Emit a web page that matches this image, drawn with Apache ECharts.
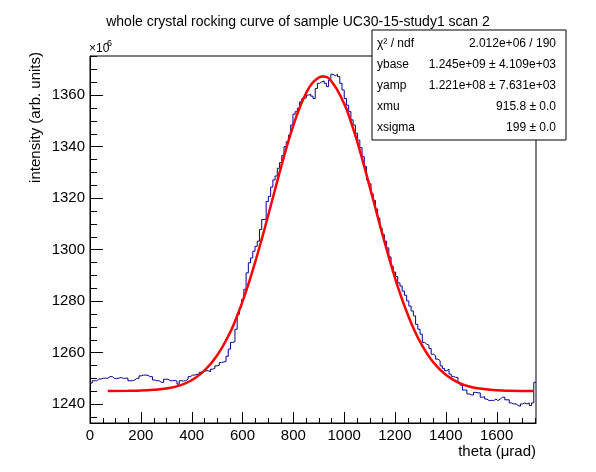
<!DOCTYPE html>
<html>
<head>
<meta charset="utf-8">
<title>whole crystal rocking curve</title>
<script src="https://cdn.jsdelivr.net/npm/echarts@6/dist/echarts.min.js"></script>
<style>
  html, body { margin: 0; padding: 0; background: #ffffff; }
  #chart { width: 596px; height: 472px; }
</style>
</head>
<body>
<div id="chart"></div>
<script>
// histogram definition: 200 bins over theta 0 .. 1755 urad
var histRange = [0, 1755];
// bin contents, units of 1e6
var counts = [
  1248.1, 1249.0, 1249.0, 1249.7, 1249.7, 1250.0, 1250.0, 1250.0, 1250.6, 1250.6,
  1249.9, 1249.9, 1250.0, 1250.3, 1249.9, 1250.0, 1250.0, 1249.0, 1249.0, 1249.3,
  1249.9, 1250.0, 1250.9, 1251.2, 1251.2, 1251.1, 1250.6, 1250.6, 1249.3, 1249.0,
  1249.0, 1248.4, 1248.4, 1249.6, 1249.6, 1249.0, 1249.0, 1249.1, 1248.9, 1247.7,
  1249.0, 1248.9, 1249.0, 1249.7, 1250.6, 1251.2, 1251.2, 1251.5, 1251.5, 1252.3,
  1252.6, 1252.9, 1252.9, 1252.5, 1253.5, 1253.8, 1254.8, 1255.0, 1256.1, 1256.3,
  1256.5, 1258.5, 1261.3, 1263.9, 1264.1, 1269.0, 1274.8, 1277.4, 1280.6, 1284.5,
  1290.9, 1294.8, 1296.7, 1299.3, 1301.2, 1303.2, 1307.7, 1311.6, 1311.8, 1318.6,
  1320.6, 1324.2, 1327.0, 1328.5, 1331.5, 1333.7, 1336.5, 1339.9, 1341.8, 1344.4,
  1348.3, 1352.5, 1353.5, 1354.8, 1357.3, 1358.6, 1358.8, 1359.9, 1360.3, 1359.5,
  1358.6, 1362.5, 1364.5, 1365.1, 1365.4, 1364.5, 1363.2, 1365.8, 1368.0, 1367.4,
  1368.0, 1367.1, 1364.5, 1361.9, 1358.6, 1356.0, 1353.5, 1350.3, 1348.3, 1345.1,
  1342.4, 1339.5, 1336.0, 1332.2, 1327.0, 1325.5, 1321.6, 1319.0, 1315.7, 1312.2,
  1308.3, 1305.8, 1303.2, 1300.6, 1297.1, 1293.5, 1291.2, 1289.5, 1287.0, 1285.8,
  1283.8, 1282.2, 1280.0, 1278.0, 1276.1, 1274.2, 1270.9, 1269.0, 1267.1, 1263.9,
  1263.2, 1262.8, 1261.5, 1259.3, 1258.7, 1257.4, 1256.8, 1254.8, 1253.8, 1252.9,
  1253.5, 1251.6, 1250.7, 1250.3, 1250.3, 1248.1, 1247.3, 1245.4, 1245.4, 1243.9,
  1243.5, 1243.5, 1244.5, 1244.3, 1244.3, 1242.6, 1242.8, 1241.9, 1241.3, 1241.4,
  1241.3, 1241.9, 1241.3, 1241.9, 1242.6, 1242.6, 1241.6, 1241.6, 1240.4, 1240.0,
  1240.0, 1239.4, 1239.1, 1240.0, 1240.4, 1240.0, 1240.4, 1239.4, 1240.4, 1248.4
];

// fitted curve, sampled along the red line
var fitX = [70, 150, 200, 250, 300, 350, 400, 450, 500, 550, 575, 600, 625, 650, 675,
  700, 725, 750, 775, 800, 825, 850, 875, 900, 915.8, 950, 1000, 1025, 1050, 1075,
  1100, 1125, 1150, 1175, 1200, 1225, 1250, 1275, 1300, 1325, 1350, 1400, 1450,
  1500, 1550, 1600, 1650, 1744];
var fitY = [1245.0, 1245.1, 1245.2, 1245.5, 1246.0, 1247.1, 1249.2, 1252.9, 1258.8,
  1267.5, 1273.2, 1279.7, 1287.0, 1295.1, 1303.7, 1312.8, 1322.1, 1331.3, 1340.1,
  1348.1, 1355.0, 1360.6, 1364.6, 1366.7, 1367.1, 1365.3, 1356.6, 1350.0, 1342.3,
  1333.7, 1324.6, 1315.3, 1306.1, 1297.3, 1289.0, 1281.5, 1274.8, 1268.9, 1263.9,
  1259.8, 1256.3, 1251.3, 1248.3, 1246.6, 1245.8, 1245.3, 1245.1, 1245.0];

// axes
var xRange = [0, 1755];
var yRange = [1232.6, 1375.1];
var xTicks = [0, 200, 400, 600, 800, 1000, 1200, 1400, 1600];
var yTicks = [1240, 1260, 1280, 1300, 1320, 1340, 1360];
var xMinor = [];
for (var v = 50; v <= 1750; v += 50) xMinor.push(v);
var yMinor = [];
for (var w = 1235; w <= 1375; w += 5) yMinor.push(w);

// fit statistics box
var statNames = ['\u03c7\u00b2 / ndf', 'ybase', 'yamp', 'xmu', 'xsigma'];
var statValues = ['2.012e+06 / 190', '1.245e+09 \u00b1 4.109e+03',
  '1.221e+08 \u00b1 7.631e+03', '915.8 \u00b1 0.0', '199 \u00b1 0.0'];

var FONT = 'Liberation Sans, Arial, Helvetica, sans-serif';

// step data: low edge of each bin, plus the upper edge of the last one
var binW = (histRange[1] - histRange[0]) / counts.length;
var histData = counts.map(function (c, i) { return [histRange[0] + i * binW, c]; });
histData.push([histRange[1], counts[counts.length - 1]]);

var fitData = fitX.map(function (x, i) { return [x, fitY[i]]; });

var statGraphics = [{
  type: 'rect',
  shape: { x: 372, y: 30, width: 194, height: 110 },
  style: { fill: '#ffffff', stroke: '#000000', lineWidth: 1 },
  z: 100
}];
statNames.forEach(function (name, i) {
  var y = 43.5 + i * 21;
  statGraphics.push({
    type: 'text', x: 377, y: y, z: 101,
    style: { text: name, fill: '#000', fontSize: 12, fontFamily: FONT,
      align: 'left', verticalAlign: 'middle', textAlign: 'left', textVerticalAlign: 'middle' }
  });
  statGraphics.push({
    type: 'text', x: 556, y: y, z: 101,
    style: { text: statValues[i], fill: '#000', fontSize: 12, fontFamily: FONT,
      align: 'right', verticalAlign: 'middle', textAlign: 'right', textVerticalAlign: 'middle' }
  });
});

function plain(val) { return String(val); }

// inside ticks (ROOT style), placed through the axes' own coordinates
function tickSeries(values, dim, len) {
  return {
    type: 'custom',
    silent: true,
    clip: false,
    z: 4,
    data: values.map(function (t) {
      return dim === 'x' ? [t, yRange[0]] : [xRange[0], t];
    }),
    renderItem: function (params, api) {
      var p = api.coord([api.value(0), api.value(1)]);
      var shape;
      if (dim === 'x') {
        var x = Math.round(p[0]) + 0.5;
        shape = { x1: x, y1: p[1], x2: x, y2: p[1] - len };
      } else {
        var y = Math.round(p[1]) + 0.5;
        shape = { x1: p[0], y1: y, x2: p[0] + len, y2: y };
      }
      return { type: 'line', shape: shape, style: { stroke: '#000', lineWidth: 1 } };
    }
  };
}

function valueAxis(range, pos, labels) {
  return {
    type: 'value', position: pos, min: range[0], max: range[1],
    axisLine: { show: true, lineStyle: { color: '#000' } },
    axisTick: { show: false },
    minorTick: { show: false },
    axisLabel: { customValues: labels, formatter: plain, fontSize: 15, color: '#000',
      margin: 5, fontFamily: FONT },
    splitLine: { show: false },
    z: 5
  };
}

var chart = echarts.init(document.getElementById('chart'), null, { renderer: 'canvas' });

var option = {
  animation: false,
  backgroundColor: '#ffffff',
  textStyle: { fontFamily: FONT },
  title: {
    text: 'whole crystal rocking curve of sample UC30-15-study1 scan 2',
    left: 'center',
    top: 10,
    textStyle: { fontSize: 14, fontWeight: 'normal', color: '#000', fontFamily: FONT }
  },
  grid: {
    left: 90, right: 60, top: 56, bottom: 49,
    show: true, borderColor: '#000', borderWidth: 1, backgroundColor: 'transparent'
  },
  xAxis: valueAxis(xRange, 'bottom', xTicks),
  yAxis: valueAxis(yRange, 'left', yTicks),
  series: [{
    name: 'data',
    type: 'line',
    step: 'end',
    data: histData,
    showSymbol: false,
    lineStyle: { color: '#000099', width: 1 },
    z: 2
  }, {
    name: 'fit',
    type: 'line',
    smooth: true,
    data: fitData,
    showSymbol: false,
    lineStyle: { color: '#ff0000', width: 2.5 },
    z: 3
  },
    tickSeries(xTicks, 'x', 11),
    tickSeries(xMinor, 'x', 5),
    tickSeries(yTicks, 'y', 13),
    tickSeries(yMinor, 'y', 7)
  ],
  graphic: [{
    type: 'text', x: 89, y: 49,
    style: { text: '\u00d710', fill: '#000', fontSize: 12, fontFamily: FONT,
      align: 'left', verticalAlign: 'middle', textAlign: 'left', textVerticalAlign: 'middle' }
  }, {
    type: 'text', x: 107, y: 44,
    style: { text: '6', fill: '#000', fontSize: 9, fontFamily: FONT,
      align: 'left', verticalAlign: 'middle', textAlign: 'left', textVerticalAlign: 'middle' }
  }, {
    type: 'text', x: 36, y: 52, rotation: Math.PI / 2,
    style: { text: 'intensity (arb. units)', fill: '#000', fontSize: 15, fontFamily: FONT,
      align: 'right', verticalAlign: 'middle', textAlign: 'right', textVerticalAlign: 'middle' }
  }, {
    type: 'text', x: 536, y: 452,
    style: { text: 'theta (\u03bcrad)', fill: '#000', fontSize: 15, fontFamily: FONT,
      align: 'right', verticalAlign: 'middle', textAlign: 'right', textVerticalAlign: 'middle' }
  }].concat(statGraphics)
};

chart.setOption(option);
</script>
</body>
</html>
